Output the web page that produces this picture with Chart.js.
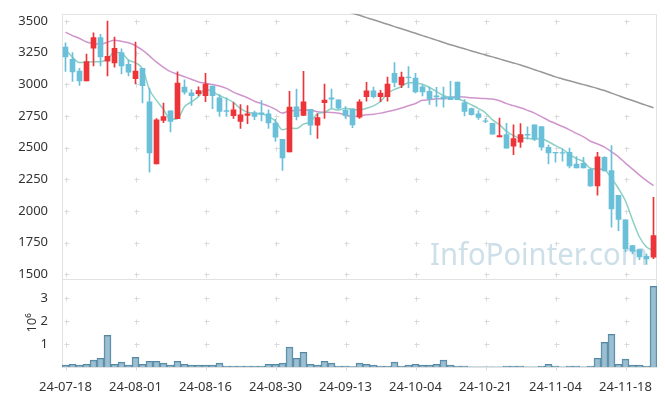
<!DOCTYPE html>
<html>
<head>
<meta charset="utf-8">
<script src="https://cdn.jsdelivr.net/npm/chart.js@4"></script>
<style>
  html, body { margin: 0; padding: 0; background: #fff; }
</style>
</head>
<body>
<canvas id="grafico" width="665" height="396"></canvas>
<script>
// trading days 2024-07-18 .. 2024-11-22 (KRX)
const dates = [
  '24-07-18','24-07-19','24-07-22','24-07-23','24-07-24','24-07-25','24-07-26','24-07-29','24-07-30','24-07-31',
  '24-08-01','24-08-02','24-08-05','24-08-06','24-08-07','24-08-08','24-08-09','24-08-12','24-08-13','24-08-14',
  '24-08-16','24-08-19','24-08-20','24-08-21','24-08-22','24-08-23','24-08-26','24-08-27','24-08-28','24-08-29',
  '24-08-30','24-09-02','24-09-03','24-09-04','24-09-05','24-09-06','24-09-09','24-09-10','24-09-11','24-09-12',
  '24-09-13','24-09-19','24-09-20','24-09-23','24-09-24','24-09-25','24-09-26','24-09-27','24-09-30','24-10-02',
  '24-10-04','24-10-07','24-10-08','24-10-10','24-10-11','24-10-14','24-10-15','24-10-16','24-10-17','24-10-18',
  '24-10-21','24-10-22','24-10-23','24-10-24','24-10-25','24-10-28','24-10-29','24-10-30','24-10-31','24-11-01',
  '24-11-04','24-11-05','24-11-06','24-11-07','24-11-08','24-11-11','24-11-12','24-11-13','24-11-14','24-11-15',
  '24-11-18','24-11-19','24-11-20','24-11-21','24-11-22'
];
const open = [
  3294,3198,3104,3028,3286,3370,3184,3169,3250,3159,
  3044,3127,2862,2372,2716,2791,2729,2979,2934,2927,
  2911,2987,2893,2794,2752,2708,2755,2776,2776,2768,
  2695,2567,2466,2823,2755,2802,2677,2856,2893,2877,
  2797,2807,2742,2903,2948,2903,2903,3088,2995,3057,
  3049,2981,2945,2909,2901,2901,3018,2854,2809,2768,
  2713,2692,2586,2604,2513,2544,2606,2680,2666,2502,
  2463,2461,2463,2370,2377,2330,2198,2424,2320,2125,
  1930,1727,1695,1643,1635
];
const high = [
  3328,3250,3127,3239,3406,3395,3500,3373,3281,3192,
  3333,3127,2971,2729,2852,2791,3098,3036,2958,2981,
  3088,2987,2919,2893,2856,2841,2833,2789,2872,2799,
  2724,2567,2945,2963,3102,2802,2768,3002,2963,2877,
  2825,2807,2880,3016,2979,2953,3057,3172,3096,3141,
  3088,2997,2979,2977,2979,3023,3018,2880,2812,2794,
  2731,2692,2734,2692,2680,2690,2664,2680,2666,2520,
  2463,2490,2497,2430,2424,2335,2463,2430,2516,2125,
  1930,1727,1695,1661,2109
];
const low = [
  3102,3023,2992,3028,3145,3145,3067,3135,3083,3067,
  3005,2854,2307,2372,2698,2625,2729,2922,2833,2911,
  2864,2809,2747,2747,2731,2653,2690,2721,2711,2653,
  2549,2320,2466,2719,2755,2602,2573,2731,2812,2802,
  2731,2659,2731,2867,2893,2864,2867,2979,2973,2973,
  2932,2909,2841,2825,2820,2880,2880,2750,2757,2724,
  2698,2606,2586,2497,2445,2502,2567,2555,2481,2372,
  2385,2393,2341,2341,2341,2195,2125,2317,1872,1846,
  1682,1661,1617,1578,1625
];
const close = [
  3216,3099,3028,3180,3370,3216,3221,3284,3145,3096,
  3104,2989,2458,2721,2745,2708,3010,2938,2911,2950,
  3002,2911,2786,2786,2799,2760,2768,2747,2763,2695,
  2583,2419,2820,2745,2862,2677,2737,2875,2883,2812,
  2755,2680,2862,2948,2903,2932,3002,3016,3057,3052,
  2940,2940,2885,2901,2885,2880,2880,2786,2760,2739,
  2708,2606,2596,2497,2573,2604,2599,2567,2505,2458,
  2458,2456,2356,2341,2341,2198,2427,2317,2016,1934,
  1703,1682,1638,1622,1807
];
// volume, millions of shares
const volume = [
  0.08,0.12,0.08,0.12,0.30,0.38,1.37,0.12,0.21,0.08,
  0.42,0.12,0.25,0.25,0.17,0.08,0.25,0.12,0.08,0.08,
  0.08,0.08,0.17,0.04,0.04,0.04,0.04,0.04,0.04,0.12,
  0.12,0.17,0.86,0.38,0.64,0.12,0.08,0.25,0.17,0.04,
  0.04,0.02,0.17,0.12,0.08,0.04,0.04,0.21,0.04,0.08,
  0.12,0.08,0.08,0.12,0.30,0.08,0.04,0.04,0.01,0.01,
  0.01,0.01,0.01,0.04,0.04,0.04,0.01,0.01,0.04,0.12,
  0.04,0.01,0.04,0.04,0.01,0.04,0.38,1.07,1.42,0.12,
  0.34,0.08,0.08,0.04,3.50
];
// moving averages
const ma5 = [
  3275,3215,3172,3175,3179,3179,3203,3254,3247,3192,
  3170,3124,2958,2874,2803,2724,2728,2824,2862,2903,
  2962,2942,2912,2887,2857,2808,2780,2772,2767,2747,
  2711,2641,2656,2652,2686,2705,2768,2779,2807,2797,
  2812,2801,2798,2811,2830,2865,2929,2960,2982,3012,
  3013,3001,2975,2944,2910,2898,2886,2866,2838,2809,
  2775,2720,2682,2629,2596,2575,2574,2568,2570,2547,
  2517,2489,2447,2414,2390,2338,2333,2325,2260,2178,
  2079,1930,1795,1716,1690
];
const ma20 = [
  3412,3385,3362,3335,3323,3318,3333,3348,3340,3328,
  3305,3270,3225,3175,3135,3100,3080,3060,3040,3019,
  3009,2999,2987,2968,2939,2916,2894,2867,2848,2828,
  2802,2773,2791,2792,2798,2797,2783,2780,2778,2772,
  2759,2748,2751,2760,2765,2773,2785,2798,2813,2831,
  2849,2875,2878,2886,2887,2897,2904,2900,2894,2890,
  2888,2884,2871,2848,2832,2815,2795,2773,2745,2715,
  2691,2667,2641,2613,2586,2551,2529,2505,2468,2428,
  2378,2331,2284,2240,2201
];
const ma120 = [
  null,null,null,null,null,null,null,null,null,null,
  null,null,null,null,null,null,null,null,null,null,
  null,null,null,null,null,null,null,null,null,null,
  null,null,null,null,null,null,null,null,null,3598,
  3580,3562,3545,3527,3510,3492,3474,3456,3439,3421,
  3403,3385,3367,3349,3331,3313,3297,3281,3264,3248,
  3232,3217,3201,3185,3169,3153,3135,3116,3097,3078,
  3059,3043,3028,3013,2998,2983,2968,2951,2931,2911,
  2891,2872,2853,2834,2815
];
const tickEvery = 10;

const UP = '#ec3439';
const DOWN = '#6ac0d9';
const candleColor = close.map((c, i) => c >= open[i] ? UP : DOWN);
const tickFont = { family: 'Noto Sans', size: 13 };

const frame = {
  id: 'frame',
  beforeDatasetsDraw(chart) {
    const { ctx, chartArea: a, scales } = chart;
    ctx.save();
    // watermark
    ctx.font = '31px "Noto Sans"';
    ctx.fillStyle = '#cddfe8';
    ctx.textAlign = 'left';
    ctx.textBaseline = 'alphabetic';
    ctx.fillText('InfoPointer.com', 430, 265, 218);
    // grid crosses
    ctx.strokeStyle = '#dadada';
    ctx.lineWidth = 1;
    ctx.beginPath();
    for (const s of [scales.y, scales.v]) {
      for (const t of s.ticks) {
        const yy = Math.round(s.getPixelForValue(t.value)) + 0.5;
        for (let i = 0; i < dates.length; i += tickEvery) {
          const xx = Math.round(scales.x.getPixelForValue(i)) + 0.5;
          ctx.moveTo(xx - 2, yy); ctx.lineTo(xx + 3, yy);
          ctx.moveTo(xx, yy - 2); ctx.lineTo(xx, yy + 3);
        }
      }
    }
    ctx.stroke();
    // panel borders
    ctx.strokeStyle = '#e2e2e2';
    for (const s of [scales.y, scales.v]) {
      ctx.strokeRect(Math.round(a.left) + 0.5, Math.round(s.top) + 0.5,
        Math.round(a.right - a.left) - 1, Math.round(s.bottom - s.top));
    }
    ctx.restore();
  }
};

new Chart(document.getElementById('grafico'), {
  data: {
    labels: dates,
    datasets: [
      {
        type: 'bar', label: 'wick', yAxisID: 'y', order: 1, grouped: false,
        data: low.map((l, i) => [l, high[i]]),
        backgroundColor: candleColor, barThickness: 1
      },
      {
        type: 'bar', label: 'body', yAxisID: 'y', order: 0, grouped: false,
        data: open.map((o, i) => [o, close[i]]),
        backgroundColor: candleColor, barThickness: 5
      },
      {
        type: 'line', label: 'MA5', yAxisID: 'y', order: 2, data: ma5,
        borderColor: 'rgba(120,200,185,0.85)', borderWidth: 1.5, pointRadius: 0,
        cubicInterpolationMode: 'monotone'
      },
      {
        type: 'line', label: 'MA20', yAxisID: 'y', order: 2, data: ma20,
        borderColor: 'rgba(200,130,195,0.85)', borderWidth: 1.5, pointRadius: 0,
        cubicInterpolationMode: 'monotone'
      },
      {
        type: 'line', label: 'MA120', yAxisID: 'y', order: 2, data: ma120,
        borderColor: 'rgba(140,140,140,0.9)', borderWidth: 1.5, pointRadius: 0,
        cubicInterpolationMode: 'monotone'
      },
      {
        type: 'bar', label: 'volume', yAxisID: 'v', order: 3, grouped: false,
        data: volume,
        backgroundColor: 'rgba(130,175,198,0.8)', borderColor: 'rgb(85,135,162)', borderWidth: 1,
        barPercentage: 1, categoryPercentage: 1
      }
    ]
  },
  options: {
    responsive: false,
    animation: false,
    layout: { padding: { top: 10, right: 8, left: 0, bottom: 0 } },
    plugins: { legend: { display: false }, tooltip: { enabled: false } },
    scales: {
      x: {
        type: 'category', offset: true,
        grid: { display: false }, border: { display: false },
        ticks: {
          autoSkip: false, maxRotation: 0, padding: 4, color: '#333', font: tickFont,
          callback: (v, i) => i % tickEvery === 0 ? dates[i] : null
        },
        afterFit: s => { s.height = 29; }
      },
      v: {
        position: 'left', stack: 'panel', stackWeight: 1,
        min: 0, max: 3.83,
        grid: { display: false }, border: { display: false },
        ticks: {
          stepSize: 1, includeBounds: false, autoSkip: false, padding: 6, color: '#333', font: tickFont,
          callback: v => v === 0 ? '' : String(v)
        },
        title: { display: true, text: '10⁶', color: '#333', font: tickFont, padding: { top: 24, bottom: 0 } },
        afterFit: s => { s.width = 62; }
      },
      y: {
        position: 'left', stack: 'panel', stackWeight: 3,
        min: 1466, max: 3557,
        grid: { display: false }, border: { display: false },
        ticks: {
          stepSize: 250, includeBounds: false, autoSkip: false, padding: 6, color: '#333', font: tickFont,
          callback: v => String(v)
        },
        afterFit: s => { s.width = 62; }
      }
    }
  },
  plugins: [frame]
});
</script>
</body>
</html>
